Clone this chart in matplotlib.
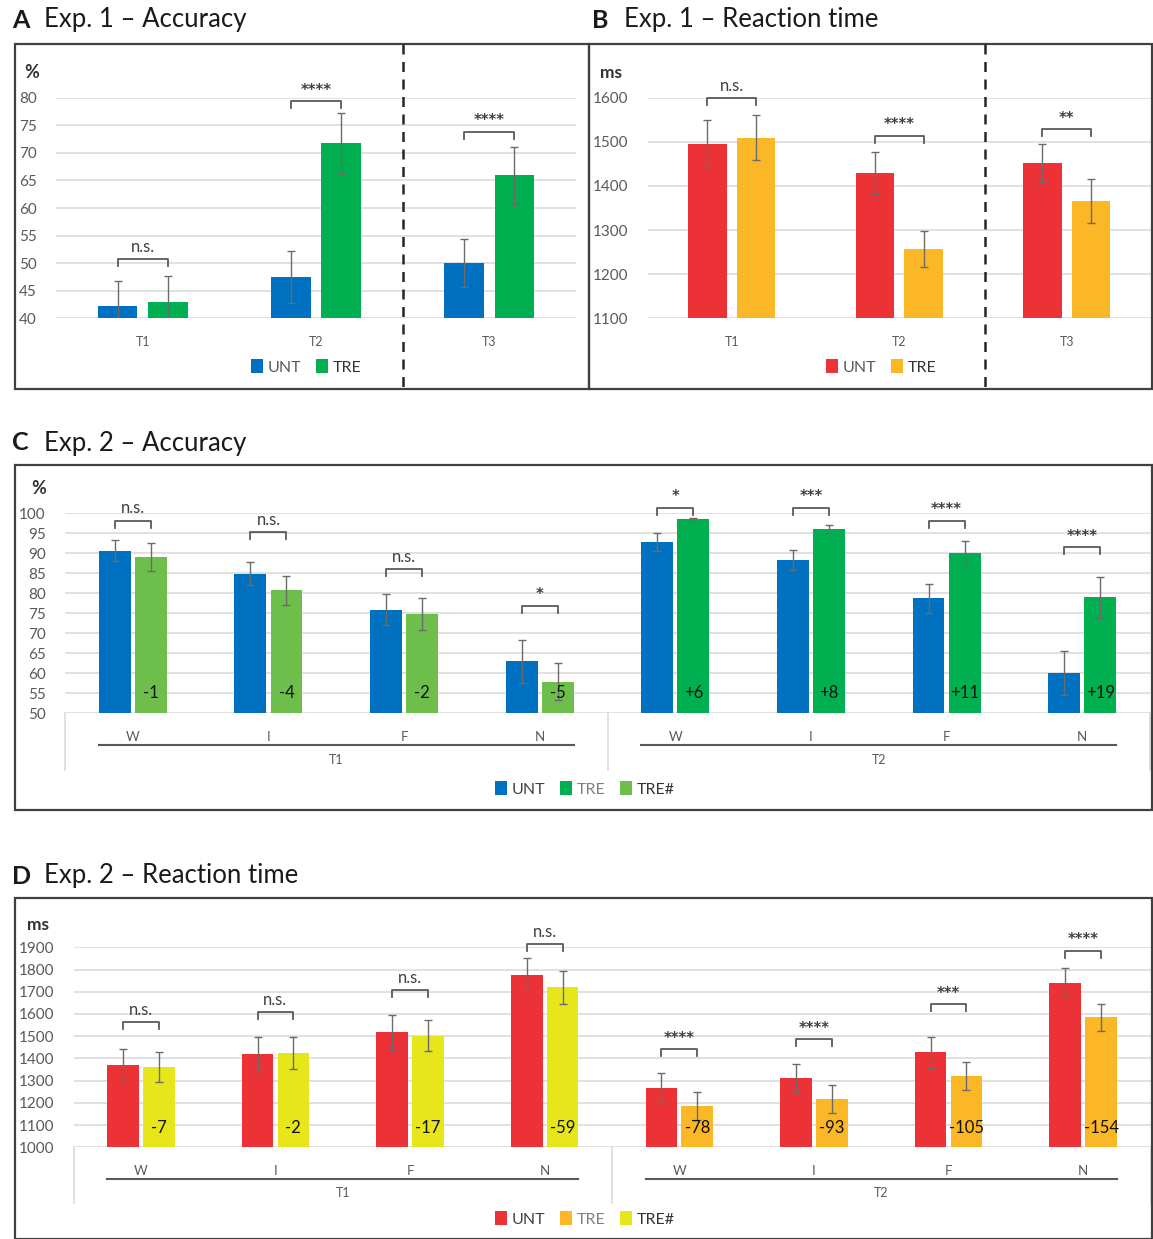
import matplotlib
matplotlib.use('Agg')
import matplotlib.pyplot as plt
from matplotlib.patches import Patch, Rectangle
from matplotlib.lines import Line2D
import matplotlib.transforms as mtransforms
import numpy as np

plt.rcParams['font.family'] = ['Lato', 'DejaVu Sans']

W, H = 1153, 1239

# ---------------- data ----------------
exp1_times = ['T1', 'T2', 'T3']
a_unt = [42.3, 47.5, 50.0]
a_unt_err = [4.4, 4.7, 4.4]
a_tre = [43.0, 71.7, 65.9]
a_tre_err = [4.7, 5.6, 5.2]
a_sig = ['n.s.', '****', '****']
a_sig_y = [50.7, 79.4, 73.8]

b_unt = [1496, 1430, 1451]
b_unt_err = [53, 48, 43]
b_tre = [1509, 1258, 1366]
b_tre_err = [51, 41, 49]
b_sig = ['n.s.', '****', '**']
b_sig_y = [1600, 1514, 1528]

exp2_cats = ['W', 'I', 'F', 'N', 'W', 'I', 'F', 'N']
exp2_groups = ['T1', 'T2']

c_unt = [90.7, 84.9, 75.9, 63.0, 92.9, 88.3, 78.75, 60.2]
c_unt_err = [2.6, 2.9, 3.9, 5.3, 2.3, 2.5, 3.55, 5.5]
c_tre = [89.2, 80.75, 74.8, 57.9, 98.5, 96.0, 90.2, 79.0]
c_tre_err = [3.5, 3.65, 3.95, 4.6, 0.4, 1.0, 3.0, 5.2]
c_diff = ['-1', '-4', '-2', '-5', '+6', '+8', '+11', '+19']
c_sig = ['n.s.', 'n.s.', 'n.s.', '*', '*', '***', '****', '****']
c_sig_y = [98.2, 95.4, 86.0, 76.9, 101.4, 101.4, 98.2, 91.5]

d_unt = [1370, 1420, 1517, 1777, 1267, 1312, 1427, 1741]
d_unt_err = [72, 75, 80, 75, 66, 61, 70, 66]
d_tre = [1361, 1423, 1502, 1720, 1187, 1217, 1321, 1585]
d_tre_err = [69, 72, 69, 75, 63, 63, 61, 60]
d_diff = ['-7', '-2', '-17', '-59', '-78', '-93', '-105', '-154']
d_sig = ['n.s.', 'n.s.', 'n.s.', 'n.s.', '****', '****', '***', '****']
d_sig_y = [1565, 1607, 1708, 1913, 1442, 1487, 1643, 1885]

BLUE = '#0070C0'
GREEN = '#00B050'
LGREEN = '#6DBE4B'
RED = '#EC3237'
ORANGE = '#FBB726'
YELLOW = '#E6E61A'
GRID = '#D9D9D9'
TXT = '#595959'
DARK = '#333333'

fig = plt.figure(figsize=(W / 100, H / 100), dpi=100)


def fx(x):
    return x / W


def fy(y):
    return 1 - y / H


def make_ax(x0, x1, ytop, ybot):
    ax = fig.add_axes([fx(x0), fy(ybot), (x1 - x0) / W, (ybot - ytop) / H])
    ax._px = (x0, x1, ytop, ybot)
    return ax


def style_ax(ax, ylo, yhi, step, nx):
    ax.set_xlim(-0.5, nx - 0.5)
    ax.set_ylim(ylo, yhi)
    ticks = np.arange(ylo, yhi + step / 2, step)
    ax.set_yticks(ticks)
    ax.set_yticklabels([f'{int(t)}' for t in ticks], color=TXT, fontsize=11)
    ax.tick_params(axis='y', length=0, pad=14)
    ax.tick_params(axis='x', length=0)
    for s in ax.spines.values():
        s.set_visible(False)
    for t in ticks:
        ax.axhline(t, color=GRID, lw=1.1, zorder=0)
    ax.set_facecolor('none')


def ppu(ax):
    x0, x1, ytop, ybot = ax._px
    lo, hi = ax.get_ylim()
    return (ybot - ytop) / (hi - lo)


def bracket(ax, xa, xb, y, label):
    tick = 7 / ppu(ax)
    ax.plot([xa, xa, xb, xb], [y - tick, y, y, y - tick], color='#595959', lw=1.3,
            clip_on=False, zorder=5)
    if label.startswith('*'):
        ax.annotate(label, ((xa + xb) / 2, y), xytext=(0, 2.5), textcoords='offset points',
                    ha='center', va='bottom', fontsize=10.5, color='#404040',
                    fontweight='bold', family='DejaVu Sans', annotation_clip=False)
    else:
        ax.annotate(label, ((xa + xb) / 2, y), xytext=(0, 3), textcoords='offset points',
                    ha='center', va='bottom', fontsize=12, color='#404040',
                    annotation_clip=False)


def draw_bars(ax, x, v1, e1, c1, v2, e2, c2, width, off):
    ekw = dict(ecolor='#6b6b6b', elinewidth=1.0, capsize=3, capthick=1.0)
    ax.bar(x - off, v1, width, color=c1, yerr=e1, error_kw=ekw, zorder=3)
    ax.bar(x + off, v2, width, color=c2, yerr=e2, error_kw=ekw, zorder=3)


def box(x0, y0, x1, y1):
    fig.patches.append(Rectangle((fx(x0), fy(y1)), (x1 - x0) / W, (y1 - y0) / H,
                                 transform=fig.transFigure, fill=False,
                                 edgecolor='#404040', lw=1.6))


def title(x, y, letter, text):
    fig.text(fx(x), fy(y), letter, fontsize=18, fontweight='bold', va='center', ha='left',
             color='#1a1a1a')
    fig.text(fx(x + 32), fy(y), text, fontsize=18.5, va='center', ha='left', color='#1a1a1a')


def legend(x, y, labels, colors, tcolors):
    handles = [Patch(facecolor=c, edgecolor='none') for c in colors]
    lg = fig.legend(handles, labels, loc='center', bbox_to_anchor=(fx(x), fy(y)),
                    ncol=len(labels), frameon=False, fontsize=11.5, handlelength=0.75,
                    handleheight=0.9, handletextpad=0.3, columnspacing=0.9,
                    borderaxespad=0, borderpad=0)
    for t, c in zip(lg.get_texts(), tcolors):
        t.set_color(c)


# ---------------- Panel A ----------------
box(15, 44, 589, 389)
title(12, 20, 'A', 'Exp. 1 – Accuracy')
axA = make_ax(56, 576, 97.7, 318.3)
style_ax(axA, 40, 80, 5, 3)
xA = np.arange(3)
draw_bars(axA, xA, a_unt, a_unt_err, BLUE, a_tre, a_tre_err, GREEN, 0.23, 0.145)
axA.set_xticks(xA)
axA.set_xticklabels(exp1_times, fontsize=9, color=TXT)
axA.tick_params(axis='x', pad=13)
for i in range(3):
    bracket(axA, xA[i] - 0.145, xA[i] + 0.145, a_sig_y[i], a_sig[i])
fig.text(fx(24), fy(73), '%', fontsize=13, fontweight='bold', color=DARK, va='center', ha='left')
fig.add_artist(Line2D([fx(403), fx(403)], [fy(44), fy(389)], color='#262626', lw=1.8,
                      ls=(0, (4, 3))))
legend(306, 367, ['UNT', 'TRE'], [BLUE, GREEN], [TXT, DARK])

# ---------------- Panel B ----------------
box(589, 44, 1152, 389)
title(592, 20, 'B', 'Exp. 1 – Reaction time')
axB = make_ax(648, 1150.5, 97.7, 318.3)
style_ax(axB, 1100, 1600, 100, 3)
draw_bars(axB, xA, b_unt, b_unt_err, RED, b_tre, b_tre_err, ORANGE, 0.23, 0.145)
axB.set_xticks(xA)
axB.set_xticklabels(exp1_times, fontsize=9, color=TXT)
axB.tick_params(axis='x', pad=13)
for i in range(3):
    bracket(axB, xA[i] - 0.145, xA[i] + 0.145, b_sig_y[i], b_sig[i])
fig.text(fx(600), fy(73), 'ms', fontsize=12.5, fontweight='bold', color=DARK, va='center',
         ha='left')
fig.add_artist(Line2D([fx(985), fx(985)], [fy(44), fy(389)], color='#262626', lw=1.8,
                      ls=(0, (4, 3))))
legend(881, 367, ['UNT', 'TRE'], [RED, ORANGE], [TXT, DARK])


# ---------------- Panels C & D ----------------
def exp2_panel(ax, ybot_px, unt, unt_err, unt_c, tre, tre_err, tre_colors, diffs, diff_y,
               sig, sig_y, cat_y, line_y, grp_y, sep_y):
    x = np.arange(8)
    width, off = 0.235, 0.133
    draw_bars(ax, x, unt, unt_err, unt_c, tre, tre_err, tre_colors, width, off)
    ax.set_xticks(x)
    ax.set_xticklabels(exp2_cats, fontsize=9.5, color=TXT)
    ax.tick_params(axis='x', pad=cat_y - ybot_px - 6)
    for i in range(8):
        bracket(ax, x[i] - off, x[i] + off, sig_y[i], sig[i])
        ax.text(x[i] + off, diff_y, diffs[i], ha='center', va='center', fontsize=12,
                color='#111111', zorder=6)
    x0, x1, ytop, ybot = ax._px
    hpx = ybot - ytop
    tr = mtransforms.blended_transform_factory(ax.transData, ax.transAxes)

    def yf(y):
        return (ybot - y) / hpx

    for g in range(2):
        a = g * 4 - off - width / 2
        b = g * 4 + 3 + off + width / 2
        ax.plot([a, b], [yf(line_y), yf(line_y)], color='#595959', lw=1.5, transform=tr,
                clip_on=False)
        ax.text(g * 4 + 1.5, yf(grp_y), exp2_groups[g], transform=tr, ha='center',
                va='center', fontsize=9, color=TXT)
    for s in [-0.5, 3.5, 7.5]:
        ax.plot([s, s], [0, yf(sep_y)], color=GRID, lw=1.1, transform=tr, clip_on=False)


box(15, 465, 1152, 810)
title(12, 443, 'C', 'Exp. 2 – Accuracy')
axC = make_ax(65, 1150, 513.3, 713.3)
style_ax(axC, 50, 100, 5, 8)
exp2_panel(axC, 713.3, c_unt, c_unt_err, BLUE, c_tre, c_tre_err,
           [LGREEN] * 4 + [GREEN] * 4, c_diff, 55, c_sig, c_sig_y, 732, 745, 760, 770)
fig.text(fx(31), fy(489), '%', fontsize=13, fontweight='bold', color=DARK, va='center',
         ha='left')
legend(585, 789, ['UNT', 'TRE', 'TRE#'], [BLUE, GREEN, LGREEN], ['#404040', '#7f7f7f', DARK])

box(15, 898, 1152, 1239)
title(12, 876, 'D', 'Exp. 2 – Reaction time')
axD = make_ax(73.5, 1150.5, 947.3, 1147.3)
style_ax(axD, 1000, 1900, 100, 8)
exp2_panel(axD, 1147.3, d_unt, d_unt_err, RED, d_tre, d_tre_err,
           [YELLOW] * 4 + [ORANGE] * 4, d_diff, 1085, d_sig, d_sig_y, 1166, 1179, 1193, 1203)
fig.text(fx(27), fy(925), 'ms', fontsize=12.5, fontweight='bold', color=DARK, va='center',
         ha='left')
legend(585, 1219, ['UNT', 'TRE', 'TRE#'], [RED, ORANGE, YELLOW], ['#404040', '#7f7f7f', DARK])

fig.savefig('out.png', dpi=100, facecolor='white')
